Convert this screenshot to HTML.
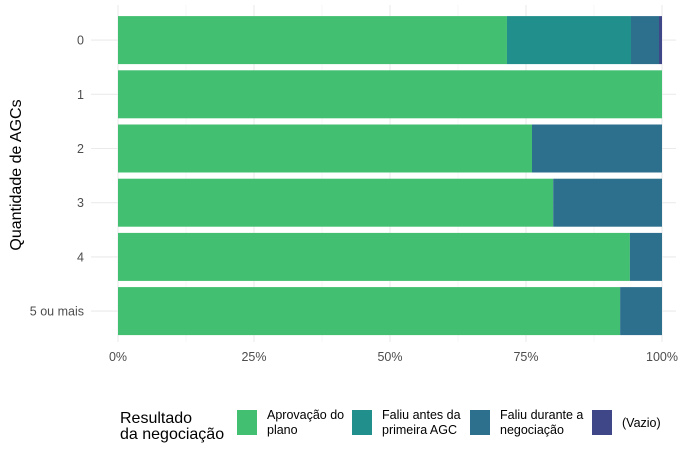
<!DOCTYPE html>
<html><head><meta charset="utf-8"><style>
body{margin:0;background:#fff;font-family:"Liberation Sans",sans-serif}
</style></head><body>
<svg width="697" height="458" xmlns="http://www.w3.org/2000/svg">
<g id="grid"></g><g id="bars"></g><g id="axes"></g><g id="legend"></g>
</svg>
<script>
const categories=["0","1","2","3","4","5 ou mais"];
const aprovacao=[0.715,1.0,0.761,0.8,0.941,0.923];
const faliuAntes=[0.228,0,0,0,0,0];
const faliuDurante=[0.0515,0,0.239,0.2,0.059,0.077];
const vazio=[0.0055,0,0,0,0,0];
const xTicks=[0,0.25,0.5,0.75,1];
const xTickLabels=["0%","25%","50%","75%","100%"];
const seriesNames=["Aprovação do\nplano","Faliu antes da\nprimeira AGC","Faliu durante a\nnegociação","(Vazio)"];
const colors=["#43BF71","#21908C","#2D708E","#3F4788"];
const NS="http://www.w3.org/2000/svg";
const x0=118,x1=662,yTop=13,step=54.2,bh=48;
const xs=v=>x0+v*(x1-x0);
const yc=i=>yTop+step*i+step/2;
function mk(tag,attrs,parent,text){const e=document.createElementNS(NS,tag);for(const k in attrs)e.setAttribute(k,attrs[k]);if(text!==undefined)e.textContent=text;parent.appendChild(e);return e;}
const grid=document.getElementById('grid'),bars=document.getElementById('bars'),axes=document.getElementById('axes'),legend=document.getElementById('legend');
for(let i=0;i<4;i++){const v=(xTicks[i]+xTicks[i+1])/2;const l=mk('line',{x1:xs(v),x2:xs(v),y1:5,y2:342,stroke:'#f2f2f2','stroke-width':0.6},grid);

}
xTicks.forEach((v,i)=>{const l=mk('line',{x1:xs(v),x2:xs(v),y1:5,y2:342,stroke:'#ebebeb','stroke-width':1.1},grid);


const t=mk('text',{x:xs(v),y:361,'text-anchor':'middle','font-size':12.5,fill:'#4d4d4d'},axes,xTickLabels[i]);

});
categories.forEach((c,i)=>{const l=mk('line',{x1:91,x2:676,y1:yc(i),y2:yc(i),stroke:'#ebebeb','stroke-width':1.1},grid);


const t=mk('text',{x:84,y:yc(i)+4.5,'text-anchor':'end','font-size':12.5,fill:'#4d4d4d'},axes,c);


const vals=[aprovacao[i],faliuAntes[i],faliuDurante[i],vazio[i]];let acc=0;
vals.forEach((v,s)=>{if(v<=0)return;const r=mk('rect',{x:xs(acc),y:yc(i)-bh/2,width:xs(acc+v)-xs(acc),height:bh,fill:colors[s]},bars);


acc+=v;});});
const yt=mk('text',{x:0,y:0,transform:'translate(21,175) rotate(-90)','text-anchor':'middle','font-size':16,fill:'#000'},axes,'Quantidade de AGCs');


const lt=mk('text',{x:120,y:423,'font-size':16,fill:'#000'},legend);


mk('tspan',{x:120,y:423},lt,'Resultado');mk('tspan',{x:120,y:439},lt,'da negociação');
const kx=[237,352,470,592];
seriesNames.forEach((n,s)=>{const g=mk('g',{},legend);


mk('rect',{x:kx[s],y:410,width:20,height:25,fill:colors[s]},g);
const lines=n.split('\n');const t=mk('text',{'font-size':12.5,fill:'#000'},g);
if(lines.length===1)mk('tspan',{x:kx[s]+30,y:427},t,lines[0]);
else{mk('tspan',{x:kx[s]+30,y:419},t,lines[0]);mk('tspan',{x:kx[s]+30,y:434},t,lines[1]);}});
</script>
</body></html>
